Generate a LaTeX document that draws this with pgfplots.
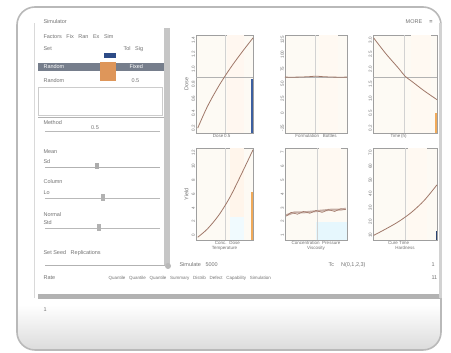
\documentclass[border=0pt]{standalone}
\usepackage{pgfplots}
\pgfplotsset{compat=1.18}
\usepackage{fontspec}
\setmainfont{Liberation Sans}
\definecolor{curve}{RGB}{160,120,105}
\definecolor{selrow}{RGB}{118,126,140}
\definecolor{cellor}{RGB}{222,150,90}
\definecolor{cellbl}{RGB}{45,75,135}
\definecolor{barbl}{RGB}{60,95,160}
\definecolor{baror}{RGB}{240,170,90}
\definecolor{cream}{RGB}{253,250,244}
\definecolor{txt}{RGB}{115,115,115}
\newcommand{\tf}{\fontsize{4.5}{5}\selectfont}
\newcommand{\pf}{\fontsize{5.5}{6}\selectfont}
\pgfplotsset{
  mini/.style={
    scale only axis, xmin=0, xmax=1, ymin=0, ymax=1,
    axis line style={gray!75, line width=0.6pt},
    axis background/.style={fill=cream},
    tick style={draw=none},
    ytick={0.05,0.2,0.35,0.5,0.65,0.8,0.95},
    yticklabel style={rotate=90, font=\tf, text=txt, inner sep=1pt},
    xticklabel style={font=\tf, text=txt, inner sep=1pt},
    xlabel style={font=\tf, text=txt, inner sep=0pt},
    ylabel style={font=\pf, text=txt, inner sep=0pt},
    clip=false,
  },
  cv/.style={curve, line width=0.8pt, smooth},
}
\begin{document}
\begin{tikzpicture}
\useasboundingbox (0pt,0pt) rectangle (451pt,353pt);
\begin{scope}[x=1pt,y=1pt]
\fill[white] (0,0) rectangle (451,353);
% outer frame
\begin{scope}
\clip[rounded corners=18] (17,3) rectangle (441,346);
\fill[white] (17,3) rectangle (441,346);
\shade[top color=white, bottom color=gray!28] (17,3) rectangle (441,48);
\end{scope}
\draw[gray!55, line width=1.6pt, rounded corners=18] (17,3) rectangle (441,346);
% inner window edge
\draw[gray!30, line width=1pt] (34,55) -- (34,330);
% title bar
\node[anchor=west, font=\pf, text=txt] at (40,331) {Simulator};
\node[anchor=east, font=\pf, text=txt] at (436,331) {MORE \quad \textbf{=}};
% toolbar
\node[anchor=west, font=\pf, text=txt] at (40,316) {Factors \; Fix \; Ran \; Ex \; Sim};
\node[anchor=west, font=\pf, text=txt] at (40,304) {Set};
\node[anchor=west, font=\pf, text=txt] at (120,304) {Tol \; Sig};
% table
\fill[cellbl] (104,295) rectangle (116,300);
\fill[selrow] (38,282) rectangle (164,290);
\fill[cellor] (100,272) rectangle (116,291);
\node[anchor=west, font=\pf, text=white] at (40,286) {Random};
\node[anchor=west, font=\pf, text=white] at (126,286) {Fixed};
\node[anchor=west, font=\pf, text=txt] at (40,272) {Random};
\node[anchor=west, font=\pf, text=txt] at (128,272) {0.5};
\draw[gray!40] (38,238) rectangle (162,266);
\draw[gray!60, line width=1pt] (38,235) -- (164,235);
% left scrollbar
\fill[gray!45] (164,88) rectangle (170,325);
% sliders panel
\node[anchor=west, font=\pf, text=txt] at (40,230) {Method};
\draw[gray!55] (45,222) -- (160,222);
\node[font=\pf, text=txt] at (95,225) {0.5};
\node[anchor=west, font=\pf, text=txt] at (40,201) {Mean};
\draw[gray!60, line width=0.8pt] (45,186) -- (160,186);
\fill[gray!65] (95,184) rectangle (99,190);
\node[anchor=west, font=\pf, text=txt] at (40,191) {Sd};
\node[anchor=west, font=\pf, text=txt] at (40,171) {Column};
\draw[gray!55] (45,155) -- (160,155);
\fill[gray!60] (101,152) rectangle (105,159);
\node[anchor=west, font=\pf, text=txt] at (40,160) {Lo};
\node[anchor=west, font=\pf, text=txt] at (40,138) {Normal};
\draw[gray!55] (45,125) -- (160,125);
\fill[gray!60] (97,122) rectangle (101,129);
\node[anchor=west, font=\pf, text=txt] at (40,130) {Std};
\node[anchor=west, font=\pf, text=txt] at (40,100) {Set Seed \; Replications};
% bottom slider row
\draw[gray!60, line width=1pt] (45,87) -- (165,87);
\fill[gray!55] (168,87) circle (3);
\node[anchor=west, font=\pf, text=txt] at (176,88) {Simulate \; 5000};
\node[anchor=west, font=\pf, text=txt] at (325,88) {Tc \quad N(0,1,2,3)};
\node[anchor=west, font=\pf, text=txt] at (428,88) {1};
\node[anchor=west, font=\pf, text=txt] at (40,75) {Rate};
\node[anchor=west, font=\tf, text=txt] at (105,75) {Quantile \; Quantile \; Quantile \; Summary \; Distrib \; Defect \; Capability \; Simulation};
\node[anchor=west, font=\pf, text=txt] at (428,75) {11};
\fill[gray!60] (38,54) rectangle (440,59);
\node[anchor=west, font=\pf, text=txt] at (40,43) {1};
\fill[gray!35] (439,55) rectangle (442,330);
\end{scope}

% ---------- plots ----------
% P1
\begin{axis}[mini, at={(196pt,220pt)}, anchor=south west, width=57pt, height=98pt,
  yticklabels={0.2,0.4,0.6,0.8,1.0,1.2,1.4}, xtick={0.45}, xticklabels={Dose\,0.5},
  ylabel={Dose}, ylabel shift=2pt]
\fill[orange!6] (axis cs:0.55,0) rectangle (axis cs:0.85,1);
\draw[gray!35] (axis cs:0.51,0) -- (axis cs:0.51,1);
\draw[gray!60] (axis cs:0,0.57) -- (axis cs:1,0.57);
\addplot[barbl, line width=1.6pt] coordinates {(0.98,0) (0.98,0.55)};
\addplot[cv] coordinates {(0.03,0.05) (0.2,0.27) (0.4,0.48) (0.6,0.66) (0.8,0.82) (1,0.97)};
\end{axis}
% P2
\begin{axis}[mini, at={(285pt,220pt)}, anchor=south west, width=62pt, height=98pt,
  yticklabels={-25,0,25,50,75,100,125}, xtick={0.5}, xticklabels={Formulation \; Bottles}]
\fill[orange!5] (axis cs:0.55,0) rectangle (axis cs:0.85,1);
\draw[gray!35] (axis cs:0.49,0) -- (axis cs:0.49,1);
\draw[gray!60] (axis cs:0,0.57) -- (axis cs:1,0.57);
\addplot[cv] coordinates {(0,0.57) (0.2,0.57) (0.4,0.575) (0.5,0.58) (0.6,0.575) (0.8,0.57) (1,0.57)};
\end{axis}
% P3
\begin{axis}[mini, at={(373pt,220pt)}, anchor=south west, width=64pt, height=98pt,
  yticklabels={0.2,0.5,1.0,1.5,2.0,2.5,3.0}, xtick={0.4}, xticklabels={Time\,(h)}]
\fill[orange!5] (axis cs:0.6,0) rectangle (axis cs:0.9,1);
\draw[gray!35] (axis cs:0.49,0) -- (axis cs:0.49,1);
\draw[gray!60] (axis cs:0,0.57) -- (axis cs:1,0.57);
\addplot[baror, line width=1.6pt] coordinates {(0.98,0) (0.98,0.2)};
\addplot[cv] coordinates {(0.01,0.97) (0.2,0.81) (0.4,0.66) (0.5,0.58) (0.6,0.53) (0.8,0.43) (1,0.34)};
\end{axis}
% P4
\begin{axis}[mini, at={(196pt,113pt)}, anchor=south west, width=57pt, height=92pt,
  yticklabels={0,2,4,6,8,10,12}, xtick={0.55}, xticklabels={Conc.\; Dose},
  xlabel={Temperature}, xlabel style={yshift=-1pt}, ylabel={Yield}, ylabel shift=2pt]
\fill[orange!8] (axis cs:0.6,0) rectangle (axis cs:0.85,1);
\fill[cyan!6] (axis cs:0.6,0) rectangle (axis cs:0.85,0.25);
\draw[gray!35] (axis cs:0.52,0) -- (axis cs:0.52,1);
\addplot[baror, line width=1.6pt] coordinates {(0.98,0) (0.98,0.52)};
\addplot[cv] coordinates {(0.03,0.03) (0.2,0.12) (0.4,0.27) (0.6,0.47) (0.8,0.72) (1,0.98)};
\end{axis}
% P5
\begin{axis}[mini, at={(285pt,113pt)}, anchor=south west, width=62pt, height=92pt,
  yticklabels={1,2,3,4,5,6,7}, xtick={0.5}, xticklabels={Concentration\; Pressure},
  xlabel={Viscosity}, xlabel style={yshift=-1pt}]
\fill[orange!5] (axis cs:0.55,0.3) rectangle (axis cs:0.9,1);
\fill[cyan!10] (axis cs:0.5,0) rectangle (axis cs:1,0.2);
\draw[gray!35] (axis cs:0.52,0) -- (axis cs:0.52,1);
\addplot[curve!60, line width=2pt] coordinates {(0.02,0.27) (0.15,0.3) (0.3,0.3) (0.45,0.31) (0.6,0.32) (0.75,0.33) (0.9,0.33) (0.98,0.34)};
\addplot[curve, line width=0.6pt] coordinates {(0.02,0.26) (0.1,0.3) (0.2,0.28) (0.3,0.31) (0.4,0.29) (0.5,0.32) (0.6,0.3) (0.7,0.33) (0.8,0.31) (0.9,0.34) (0.98,0.33)};
\end{axis}
% P6
\begin{axis}[mini, at={(373pt,113pt)}, anchor=south west, width=64pt, height=92pt,
  yticklabels={10,20,30,40,50,60,70}, xtick={0.4}, xticklabels={Cure Time},
  xlabel={Hardness}, xlabel style={yshift=-1pt}]
\fill[orange!5] (axis cs:0.55,0) rectangle (axis cs:0.85,1);
\draw[gray!35] (axis cs:0.5,0) -- (axis cs:0.5,1);
\addplot[barbl!70!black, line width=1.4pt] coordinates {(0.99,0) (0.99,0.1)};
\addplot[cv] coordinates {(0.01,0.05) (0.2,0.12) (0.4,0.2) (0.6,0.3) (0.8,0.43) (1,0.6)};
\end{axis}
\end{tikzpicture}
\end{document}
